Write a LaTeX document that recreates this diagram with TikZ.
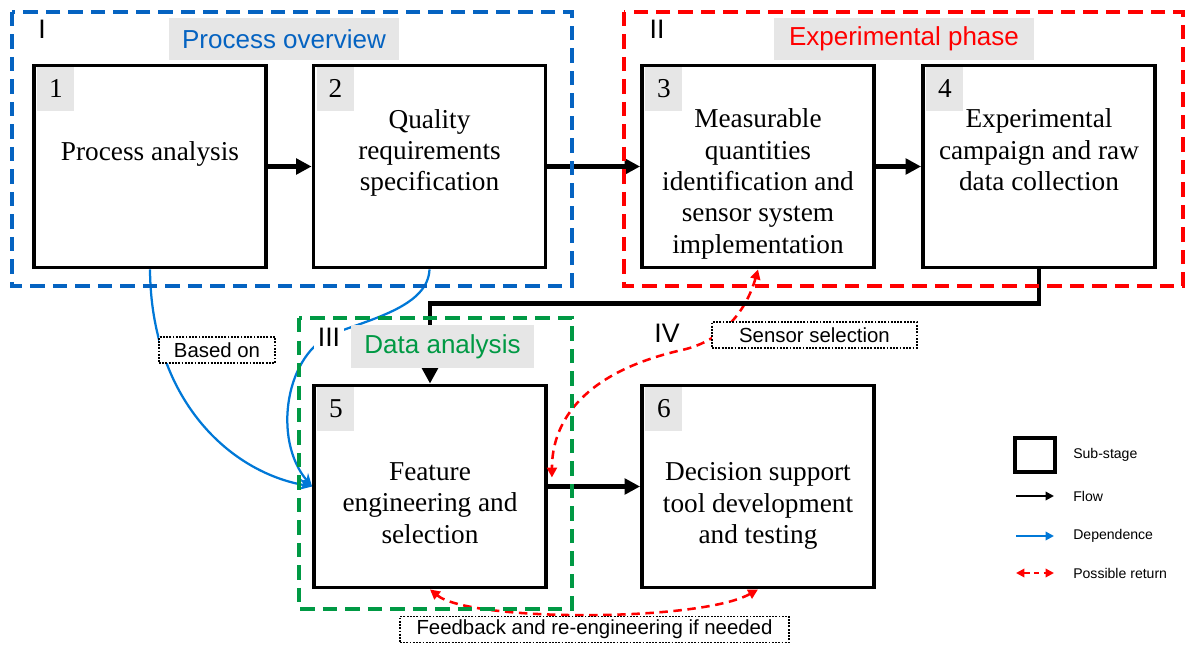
\documentclass[tikz,border=0pt]{standalone}
\usepackage{fontspec}
\setmainfont{Liberation Serif}
\setsansfont{Liberation Sans}
\usetikzlibrary{arrows.meta}

\definecolor{grpblue}{RGB}{5,99,193}
\definecolor{grpred}{RGB}{255,0,0}
\definecolor{grpgreen}{RGB}{0,153,68}
\definecolor{depblue}{RGB}{0,120,215}
\definecolor{labgray}{RGB}{230,230,230}

\begin{document}
\begin{tikzpicture}[x=0.025cm,y=-0.025cm,
  stage/.style={draw,line width=2.7pt,fill=white,minimum width=5.8cm,minimum height=5.05cm,inner sep=0pt},
  stagetext/.style={align=center,font=\fontsize{19.4}{22.3}\selectfont,inner sep=0pt},
  numbox/.style={fill=labgray,anchor=north west,minimum width=0.925cm,minimum height=1.1cm,inner sep=0pt,font=\fontsize{19.4}{22.3}\selectfont},
  grouplabel/.style={fill=labgray,minimum height=1.05cm,inner sep=0pt,font=\sffamily\fontsize{18.5}{22}\selectfont},
  roman/.style={font=\sffamily\fontsize{19}{22}\selectfont,inner sep=1pt},
  group/.style={line width=2.6pt,dash pattern=on 10pt off 6pt},
  flow/.style={line width=3.2pt,-{Triangle[length=11pt,width=11pt]}},
  depend/.style={depblue,line width=1.6pt,-{Stealth[length=9pt,width=8pt]}},
  back/.style={grpred,line width=1.8pt,dash pattern=on 6pt off 4pt,{Triangle[length=7pt,width=7pt]}-{Triangle[length=7pt,width=7pt]}},
  note/.style={draw,line width=1.3pt,densely dotted,fill=white,minimum height=0.65cm,inner sep=0pt,font=\sffamily\fontsize{14.5}{17}\selectfont},
  legtext/.style={anchor=west,inner sep=0pt,font=\sffamily\fontsize{10}{12}\selectfont}]
\useasboundingbox (0,0) rectangle (1186,651);

% Sub-stages
\node[stage] (b1) at (150,166.5) {};
\node[stage] (b2) at (429.5,166.5) {};
\node[stage] (b3) at (758,166.5) {};
\node[stage] (b4) at (1039,166.5) {};
\node[stage] (b5) at (430,486.5) {};
\node[stage] (b6) at (758,486.5) {};

% Stage texts
\node[stagetext] (t1) at (150,154) {Process analysis};
\node[stagetext] (t2) at (429.5,153) {Quality\\requirements\\specification};
\node[stagetext] (t3) at (758,184) {Measurable\\quantities\\identification and\\sensor system\\implementation};
\node[stagetext] (t4) at (1039,150) {Experimental\\campaign and raw\\data collection};
\node[stagetext] (t5) at (430,503) {Feature\\engineering and\\selection};
\node[stagetext] (t6) at (758,506) {Decision support\\tool development\\and testing};

% Numbers
\node[numbox] (n1) at ([shift={(5,3)}]b1.north west) {1};
\node[numbox] (n2) at ([shift={(5,3)}]b2.north west) {2};
\node[numbox] (n3) at ([shift={(5,3)}]b3.north west) {3};
\node[numbox] (n4) at ([shift={(5,3)}]b4.north west) {4};
\node[numbox] (n5) at ([shift={(5,3)}]b5.north west) {5};
\node[numbox] (n6) at ([shift={(5,3)}]b6.north west) {6};

% Dependences
\draw[depend] (b1.south) .. controls (151,400) and (230,472) .. (b5.west);
\draw[depend] (b2.south) .. controls (428,305) and (375,318) .. (335,333) .. controls (285,352) and (272,440) .. (b5.west);

% Possible returns
\draw[back] (b3.south) .. controls (748,305) and (727,340) .. (682,350) .. controls (585,372) and (552,420) .. ([shift={(4,-9)}]b5.east);
\draw[back] (b5.south) .. controls (470,622) and (700,622) .. (b6.south);

% Flow
\draw[flow] (b1.east) -- (b2.west);
\draw[flow] (b2.east) -- (b3.west);
\draw[flow] (b3.east) -- (b4.west);
\draw[flow] (b4.south) -- ++(0,34) -| (b5.north);
\draw[flow] (b5.east) -- (b6.west);

% Phases
\draw[group,grpblue] (12,12) rectangle (572,286);
\draw[group,grpred] (624,12) rectangle (1183,286);
\draw[group,grpgreen] (299,318) rectangle (572,609);

\node[grouplabel,text=grpblue,minimum width=5.725cm] (lab1) at (284,39) {Process overview};
\node[grouplabel,text=grpred,minimum width=6.475cm] (lab2) at (904,39) {Experimental phase};
\node[grouplabel,text=grpgreen,minimum width=4.575cm] (lab3) at (442.5,346.5) {Data analysis};

\node[roman] (r1) at (42,29) {I};
\node[roman] (r2) at (657,29) {II};
\node[roman,fill=white,inner sep=3pt] (r3) at (329,337) {III};
\node[roman] (r4) at (667,333) {IV};

% Notes
\node[note,minimum width=2.9cm] (based) at (217,350) {Based on};
\node[note,minimum width=5.125cm] (sensor) at (814.5,335) {Sensor selection};
\node[note,minimum width=9.725cm] (feedback) at (594.5,629.5) {Feedback and re-engineering if needed};

% Legend
\node[draw,line width=2.2pt,minimum width=1cm,minimum height=0.85cm,inner sep=0pt] (leg1) at (1035,455) {};
\node[legtext] (legt1) at (1073,455) {Sub-stage};
\coordinate (f0) at (1016,496);
\coordinate (f1) at (1054,496);
\draw[line width=1.5pt,-{Triangle[length=6pt,width=6pt]}] (f0) -- (f1);
\node[legtext] (legt2) at (1073,496) {Flow};
\coordinate (d0) at (1016,536);
\coordinate (d1) at (1054,536);
\draw[depblue,line width=2pt,-{Triangle[length=6pt,width=6pt]}] (d0) -- (d1);
\node[legtext] (legt3) at (1073,536) {Dependence};
\coordinate (p0) at (1016,573);
\coordinate (p1) at (1054,573);
\draw[back,dash pattern=on 4pt off 3pt,{Triangle[length=6pt,width=6pt]}-{Triangle[length=6pt,width=6pt]}] (p0) -- (p1);
\node[legtext] (legt4) at (1073,573) {Possible return};
\end{tikzpicture}
\end{document}
